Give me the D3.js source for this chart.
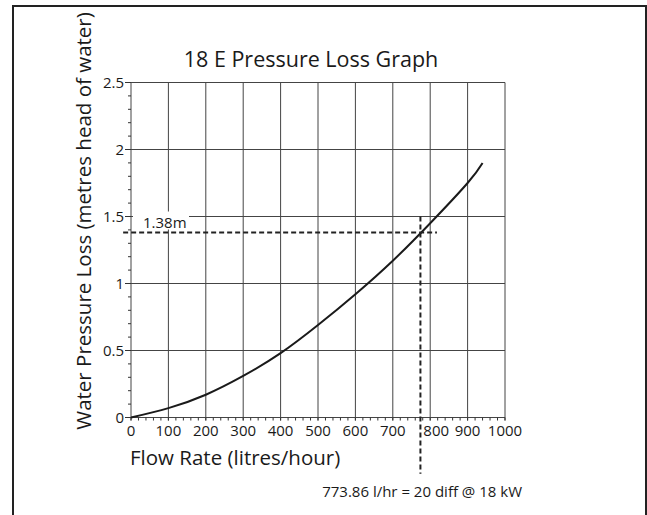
<!DOCTYPE html>
<html lang="en">
<head>
  <meta charset="UTF-8">
  <script src="https://d3js.org/d3.v7.min.js"></script>
  <style>
    body { margin: 0; background: #fff; font-family: 'Open Sans', sans-serif; }
    line.grid { stroke: #444; stroke-width: 1; }
    line.tick { stroke: #333; stroke-width: 1; }
    path.curve { fill: none; stroke: #1a1a1a; stroke-width: 2; }
    line.marker { stroke: #222; stroke-width: 2; stroke-dasharray: 5,3; }
    text { fill: #1a1a1a; }
  </style>
</head>
<body>
<script>
  // flow rate (l/hr) vs pressure loss (m head of water)
  const flows  = [0, 100, 200, 300, 400, 500, 600, 700, 800, 900, 940];
  const losses = [0, 0.07, 0.17, 0.31, 0.48, 0.69, 0.92, 1.17, 1.45, 1.75, 1.90];

  const xTicks = [0, 100, 200, 300, 400, 500, 600, 700, 800, 900, 1000];
  const yTicks = [0, 0.5, 1, 1.5, 2, 2.5];

  const markerFlow = 773.86;
  const markerLoss = 1.38;

  const width = 647, height = 515;
  const svg = d3.select("body").append("svg")
    .attr("width", width)
    .attr("height", height);

  const x = d3.scaleLinear().domain([0, 1000]).range([131, 505]);
  const y = d3.scaleLinear().domain([0, 2.5]).range([417.5, 82.5]);

  // outer frame
  svg.append("rect")
    .attr("x", 13).attr("y", 6)
    .attr("width", 633).attr("height", 530)
    .attr("fill", "none").attr("stroke", "#222").attr("stroke-width", 2);

  // grid
  svg.selectAll(".vgrid").data(xTicks).enter().append("line")
    .attr("class", "grid")
    .attr("x1", d => x(d)).attr("x2", d => x(d))
    .attr("y1", y(0) + 3).attr("y2", y(2.5));
  svg.selectAll(".hgrid").data(yTicks).enter().append("line")
    .attr("class", "grid")
    .attr("x1", x(0)).attr("x2", x(1000))
    .attr("y1", d => y(d)).attr("y2", d => y(d));

  // minor ticks
  const yMinor = d3.range(0, 2.51, 0.1);
  svg.selectAll(".ytick").data(yMinor).enter().append("line")
    .attr("class", "tick")
    .attr("x1", (d, i) => x(0) - (i % 5 === 0 ? 6 : 3)).attr("x2", x(0))
    .attr("y1", d => y(d)).attr("y2", d => y(d));
  const xMinor = d3.range(0, 1001, 20);
  svg.selectAll(".xtick").data(xMinor).enter().append("line")
    .attr("class", "tick")
    .attr("x1", d => x(d)).attr("x2", d => x(d))
    .attr("y1", y(0)).attr("y2", y(0) + 3);

  // tick labels (800 nudged clear of the dashed line, as in the original)
  svg.selectAll(".xlab").data(xTicks).enter().append("text")
    .attr("x", d => x(d) + (d === 800 ? 6 : 0)).attr("y", 436)
    .attr("text-anchor", "middle")
    .attr("font-size", 15)
    .text(d => d);
  svg.selectAll(".ylab").data(yTicks).enter().append("text")
    .attr("x", 124).attr("y", d => y(d) + 5)
    .attr("text-anchor", "end")
    .attr("font-size", 15)
    .text(d => d);

  // curve
  const line = d3.line()
    .x((d, i) => x(flows[i]))
    .y(d => y(d))
    .curve(d3.curveNatural);
  svg.append("path").attr("class", "curve").attr("d", line(losses));

  // marker lines
  svg.append("line").attr("class", "marker")
    .attr("x1", x(-21)).attr("x2", x(818))
    .attr("y1", y(markerLoss)).attr("y2", y(markerLoss));
  svg.append("line").attr("class", "marker")
    .attr("x1", x(markerFlow)).attr("x2", x(markerFlow))
    .attr("y1", y(1.5)).attr("y2", y(-0.42));

  // 1.38m label over the grid
  svg.append("rect")
    .attr("x", x(0) + 2).attr("y", y(1.5) - 5)
    .attr("width", 56).attr("height", 18)
    .attr("fill", "#fff");
  svg.append("text")
    .attr("x", 143).attr("y", 227.5)
    .attr("font-size", 15)
    .text(markerLoss + "m");

  // titles
  svg.append("text")
    .attr("x", 311).attr("y", 66.5)
    .attr("text-anchor", "middle")
    .attr("font-size", 21.5)
    .text("18 E Pressure Loss Graph");
  svg.append("text")
    .attr("x", 130).attr("y", 465)
    .attr("font-size", 20.5)
    .text("Flow Rate (litres/hour)");
  svg.append("text")
    .attr("transform", "translate(91,221) rotate(-90)")
    .attr("text-anchor", "middle")
    .attr("font-size", 20.5)
    .text("Water Pressure Loss (metres head of water)");
  svg.append("text")
    .attr("x", 522).attr("y", 496.5)
    .attr("text-anchor", "end")
    .attr("font-size", 15)
    .text(markerFlow + " l/hr = 20 diff @ 18 kW");
</script>
</body>
</html>
